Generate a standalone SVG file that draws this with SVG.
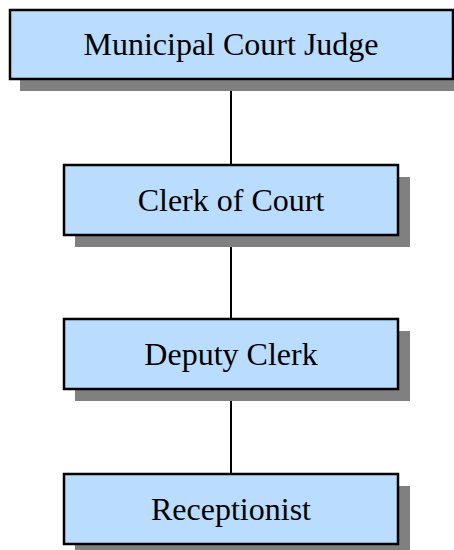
<svg xmlns="http://www.w3.org/2000/svg" width="454" height="550" viewBox="0 0 454 550">
  <style>
    .shadow { fill: #808080; }
    .box { fill: #b9dcff; stroke: #000; stroke-width: 2.5; }
    .label { font-family: "Liberation Serif", "Times New Roman", serif; font-size: 32px; fill: #000; text-anchor: middle; }
    .link { stroke: #000; stroke-width: 2; fill: none; }
  </style>
  <rect width="454" height="550" fill="#fff"/>
  <g id="connectors">
    <line class="link" x1="231" y1="79" x2="231" y2="165"/>
    <line class="link" x1="231" y1="235" x2="231" y2="319"/>
    <line class="link" x1="231" y1="389" x2="231" y2="474"/>
  </g>
  <g id="judge">
    <rect class="shadow" x="20" y="79" width="440" height="12"/>
    <rect class="box" x="10" y="10" width="443" height="69"/>
    <text class="label" x="231" y="55">Municipal Court Judge</text>
  </g>
  <g id="clerk">
    <rect class="shadow" x="75" y="177" width="335" height="70"/>
    <rect class="box" x="64" y="165" width="334" height="70"/>
    <text class="label" x="231" y="211">Clerk of Court</text>
  </g>
  <g id="deputy">
    <rect class="shadow" x="75" y="331" width="335" height="70"/>
    <rect class="box" x="64" y="319" width="334" height="70"/>
    <text class="label" x="231" y="365">Deputy Clerk</text>
  </g>
  <g id="receptionist">
    <rect class="shadow" x="75" y="486" width="335" height="70"/>
    <rect class="box" x="64" y="474" width="334" height="70"/>
    <text class="label" x="231" y="520">Receptionist</text>
  </g>
</svg>
